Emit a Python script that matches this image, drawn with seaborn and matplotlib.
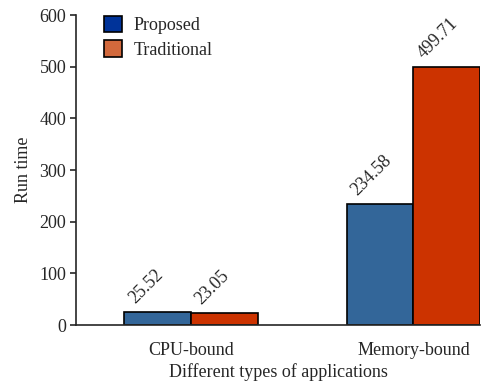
import pandas as pd
import matplotlib.pyplot as plt
import seaborn as sns
from matplotlib.patches import Patch

# data
categories = ["CPU-bound", "Memory-bound"]
methods = ["Proposed", "Traditional"]
proposed = [25.52, 234.58]
traditional = [23.05, 499.71]

df = pd.DataFrame({
    "Application": categories * 2,
    "Method": [methods[0]] * 2 + [methods[1]] * 2,
    "Run time": proposed + traditional,
})

sns.set_style("white")
serif = ["Liberation Serif", "DejaVu Serif"]
plt.rcParams["font.family"] = serif

bar_colors = {"Proposed": "#336699", "Traditional": "#cc3300"}
legend_colors = {"Proposed": "#003399", "Traditional": "#d2693c"}

fig = plt.figure(figsize=(4.84, 3.88), dpi=100)
ax = fig.add_axes([0.157, 0.162, 0.835, 0.799])

sns.barplot(data=df, x="Application", y="Run time", hue="Method",
            palette=bar_colors, saturation=1, width=0.6,
            edgecolor="black", linewidth=1.2, ax=ax, legend=False)

# value labels, rotated 45 degrees above each bar
for cont in ax.containers:
    for bar in cont:
        h = bar.get_height()
        ax.text(bar.get_x() + bar.get_width() * 0.2, h + 10, f"{h:.2f}",
                rotation=45, ha="left", va="bottom", fontsize=13,
                family=serif, rotation_mode="anchor")

ax.set_ylim(0, 600)
ax.set_xlim(-0.518, 1.30)
ax.set_yticks([0, 100, 200, 300, 400, 500, 600])
ax.set_xlabel("Different types of applications", fontsize=13, labelpad=3)
ax.set_ylabel("Run time", fontsize=13, labelpad=5)
ax.tick_params(axis="y", direction="out", length=4, width=1.2, left=True,
               labelsize=13, pad=3)
ax.tick_params(axis="x", length=0, labelsize=13, pad=12)

sns.despine(ax=ax, top=True, right=True)
ax.spines["left"].set_linewidth(1.2)
ax.spines["bottom"].set_linewidth(1.2)

handles = [Patch(facecolor=legend_colors[m], edgecolor="black", linewidth=1.2, label=m)
           for m in methods]
ax.legend(handles=handles, loc="upper left", bbox_to_anchor=(0.03, 1.05),
          frameon=False, fontsize=13, handlelength=1.0, handleheight=1.0,
          handletextpad=0.6, labelspacing=0.35)

fig.savefig("out.png", dpi=100)
